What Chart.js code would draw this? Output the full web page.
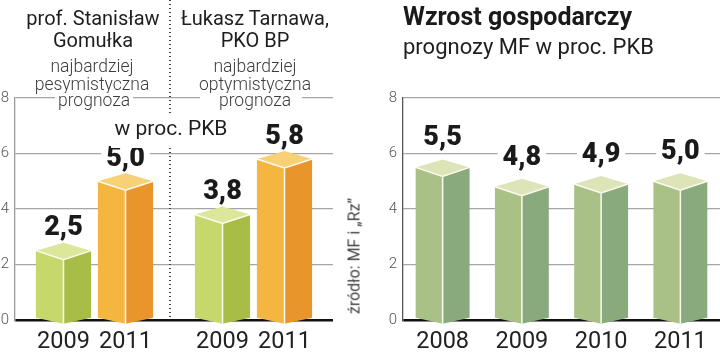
<!DOCTYPE html>
<html>
<head>
<meta charset="utf-8">
<script src="https://cdn.jsdelivr.net/npm/chart.js@4.4.1/dist/chart.umd.min.js"></script>
<style>
  body { margin: 0; background: #fff; font-family: Roboto, sans-serif; }
  #page { position: relative; width: 720px; height: 354px; overflow: hidden; background: #fff; }
  canvas { position: absolute; top: 0; }
  .t { position: absolute; white-space: nowrap; text-align: center; }
  .head { font-size: 20px; line-height: 22px; color: #1e1e1e; }
  .sub { font-size: 17.5px; line-height: 18px; color: #3c3c3c; font-weight: 300; }
  .prog { top: 93px; height: 15px; line-height: 15px; background: #fff; }
</style>
</head>
<body>
<div id="page">
  <canvas id="leftChart" width="345" height="354" style="left:0"></canvas>
  <canvas id="rightChart" width="360" height="354" style="left:360px"></canvas>

  <!-- przerywana linia między prognozami -->
  <div style="position:absolute;left:169px;top:0;width:1.5px;height:318px;
    background:repeating-linear-gradient(to bottom,#444 0 1.5px,transparent 1.5px 4px)"></div>

  <div class="t head" style="left:0;width:186px;top:7px">prof. Stanisław<br>Gomułka</div>
  <div class="t head" style="left:172px;width:166px;top:7px">Łukasz Tarnawa,<br>PKO BP</div>
  <div class="t sub" style="left:0;width:184px;top:57px">najbardziej<br>pesymistyczna</div>
  <div class="t sub" style="left:172px;width:166px;top:57px">najbardziej<br>optymistyczna</div>
  <div class="t sub prog" style="left:55px;width:78px">prognoza</div>
  <div class="t sub prog" style="left:200px;width:102px;padding-left:8px;box-sizing:border-box">prognoza</div>
  <div class="t" style="left:111px;width:120px;top:114px;height:34px;background:#fff;font-size:21px;line-height:28px;color:#1e1e1e">w proc. PKB</div>

  <div class="t" style="left:403px;top:2px;font-size:25px;font-weight:bold;color:#1a1a1a">Wzrost gospodarczy</div>
  <div class="t" style="left:403px;top:34px;font-size:22px;color:#1e1e1e">prognozy MF w proc. PKB</div>

  <div class="t" style="left:354px;top:256px;font-size:16px;color:#444;transform:translate(-50%,-50%) rotate(-90deg)">źródło: MF i „Rz”</div>
</div>
<script>
// dane - lewa część (dwie prognozy)
const leftGroups = ['Gomułka', 'Tarnawa'];
const leftYears = ['2009', '2011'];
const left2009 = [2.5, 3.8];
const left2011 = [5.0, 5.8];

// dane - prawa część (prognozy MF)
const rightYears = ['2008', '2009', '2010', '2011'];
const rightValues = [5.5, 4.8, 4.9, 5.0];

const yTicks = [0, 2, 4, 6, 8];

const fmt = v => v.toFixed(1).replace('.', ',');

// kolory ścian: przód, bok, góra
const greenLeft = { front: '#c6d76c', side: '#a8bd45', top: '#dde79c' };
const orange = { front: '#f4b640', side: '#e8962b', top: '#f8d176' };
const greenRight = { front: '#a9c087', side: '#88aa7d', top: '#dce4b8' };

// rysowanie słupków 3D na podstawie elementów bar
function box3d(opts) {
  return {
    id: 'box3d',
    afterDatasetsDraw(chart) {
      const ctx = chart.ctx;
      ctx.save();
      chart.data.datasets.forEach((ds, di) => {
        const meta = chart.getDatasetMeta(di);
        meta.data.forEach((bar, i) => {
          const c = opts.colors(di, i);
          const L = bar.x - bar.width / 2, R = bar.x + bar.width / 2, C = bar.x;
          const y = bar.y, b = bar.base;
          const dF = 9, dB = 8;
          // przód
          ctx.fillStyle = c.front;
          ctx.beginPath();
          ctx.moveTo(L, y); ctx.lineTo(C, y + dF); ctx.lineTo(C, b + 5); ctx.lineTo(L, b - 1);
          ctx.closePath(); ctx.fill();
          // bok
          ctx.fillStyle = c.side;
          ctx.beginPath();
          ctx.moveTo(C, y + dF); ctx.lineTo(R, y); ctx.lineTo(R, b - 1); ctx.lineTo(C, b + 5);
          ctx.closePath(); ctx.fill();
          // góra
          ctx.fillStyle = c.top;
          ctx.beginPath();
          ctx.moveTo(L, y); ctx.lineTo(C, y - dB); ctx.lineTo(R, y); ctx.lineTo(C, y + dF);
          ctx.closePath(); ctx.fill();
          // jasne krawędzie
          ctx.strokeStyle = '#fbfbf0';
          ctx.lineWidth = 1.5;
          ctx.beginPath();
          ctx.moveTo(L, y); ctx.lineTo(C, y + dF); ctx.lineTo(R, y);
          ctx.moveTo(C, y + dF); ctx.lineTo(C, b + 5);
          ctx.stroke();

          // wartość nad słupkiem
          const txt = fmt(ds.data[i]);
          ctx.font = '900 27px Roboto';
          ctx.textAlign = 'center';
          ctx.textBaseline = 'middle';
          const ty = y - opts.gap;
          const w = ctx.measureText(txt).width;
          ctx.fillStyle = '#fff';
          ctx.fillRect(C - w / 2 - 5, ty - 12, w + 10, 24);
          ctx.fillStyle = '#1a1a1a';
          ctx.fillText(txt, C, ty + 1);

          // rok pod słupkiem
          ctx.font = '23.5px Roboto';
          ctx.fillStyle = '#222';
          ctx.fillText(opts.year(chart, di, i), C, 342);
        });
      });
      ctx.restore();
    }
  };
}

function yScale(width, borderColor) {
  return {
    min: 0,
    max: 8,
    afterBuildTicks: s => { s.ticks = yTicks.map(v => ({ value: v })); },
    afterFit: s => { s.width = width; },
    border: { display: true, color: borderColor, width: 1.3 },
    grid: {
      drawTicks: false,
      color: c => c.tick && c.tick.value === 0 ? '#111' : '#a6a6a6',
      lineWidth: c => c.tick && c.tick.value === 0 ? 2.5 : 1.2
    },
    ticks: {
      padding: 6,
      color: '#555',
      font: { family: 'Roboto', size: 15, weight: '300' }
    }
  };
}

const leftChart = new Chart(document.getElementById('leftChart'), {
  type: 'bar',
  data: {
    labels: leftGroups,
    datasets: [
      { label: leftYears[0], data: left2009, backgroundColor: 'rgba(0,0,0,0)' },
      { label: leftYears[1], data: left2011, backgroundColor: 'rgba(0,0,0,0)' }
    ]
  },
  options: {
    responsive: false,
    animation: false,
    categoryPercentage: 0.78,
    barPercentage: 0.89,
    layout: { padding: { top: 98, bottom: 34, left: 0, right: 12 } },
    scales: {
      x: { display: false },
      y: yScale(15, '#9a9a9a')
    },
    plugins: { legend: { display: false }, tooltip: { enabled: false } }
  },
  plugins: [box3d({
    gap: 23,
    colors: (di) => di === 0 ? greenLeft : orange,
    year: (chart, di) => chart.data.datasets[di].label
  })]
});

const rightChart = new Chart(document.getElementById('rightChart'), {
  type: 'bar',
  data: {
    labels: rightYears,
    datasets: [{ data: rightValues, backgroundColor: 'rgba(0,0,0,0)' }]
  },
  options: {
    responsive: false,
    animation: false,
    categoryPercentage: 1,
    barPercentage: 0.68,
    layout: { padding: { top: 98, bottom: 34, left: 0, right: 0 } },
    scales: {
      x: { display: false },
      y: yScale(43, '#555')
    },
    plugins: { legend: { display: false }, tooltip: { enabled: false } }
  },
  plugins: [box3d({
    gap: 30,
    colors: () => greenRight,
    year: (chart, di, i) => chart.data.labels[i]
  })]
});
</script>
</body>
</html>
